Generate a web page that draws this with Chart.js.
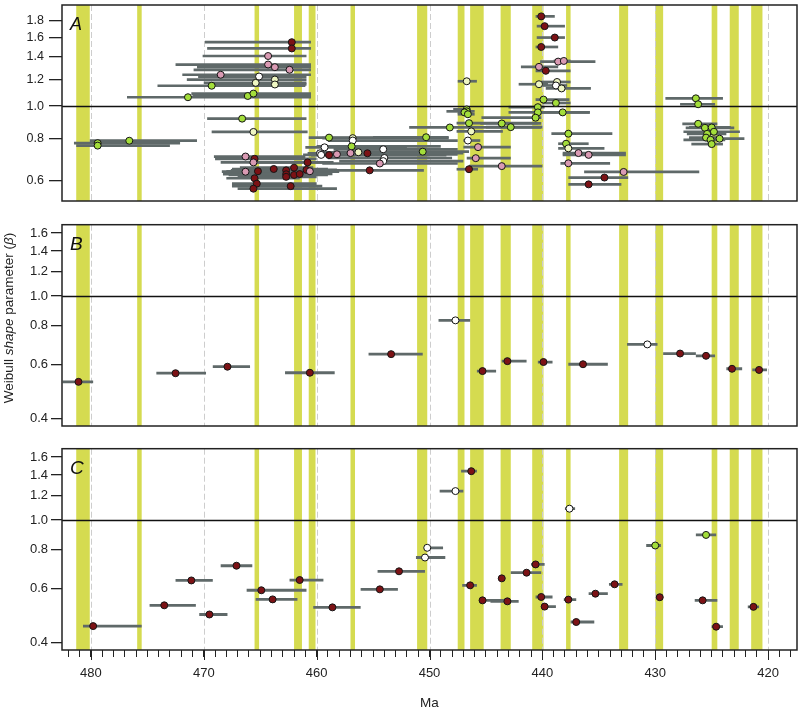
<!DOCTYPE html>
<html>
<head>
<meta charset="utf-8">
<title>Weibull shape parameter through time</title>
<script src="https://cdn.jsdelivr.net/npm/chart.js"></script>
<style>
  body { margin: 0; background: #fff; }
  #wrap { position: relative; width: 802px; height: 714px; }
  canvas { position: absolute; left: 0; }
  #chartA { top: 0; }
  #chartB { top: 215px; }
  #chartC { top: 440px; }
</style>
</head>
<body>
<div id="wrap">
  <canvas id="chartA" width="802" height="206"></canvas>
  <canvas id="chartB" width="802" height="216"></canvas>
  <canvas id="chartC" width="802" height="274"></canvas>
</div>
<script>
// stage bands (older edge, younger edge), Ma
const bandOld   = [481.3, 475.9, 465.5, 462.0, 460.7, 457.0, 451.1, 447.5, 446.4, 443.7, 440.9, 437.9, 433.2, 430.0, 425.0, 423.4, 421.5];
const bandYoung = [480.1, 475.5, 465.1, 461.3, 460.1, 456.6, 450.2, 446.9, 445.2, 442.8, 439.9, 437.5, 432.4, 429.3, 424.5, 422.6, 420.5];

const xTickLabels = [480, 470, 460, 450, 440, 430, 420];
const yTicksA = [0.6, 0.8, 1.0, 1.2, 1.4, 1.6, 1.8];
const yTicksBC = [0.4, 0.6, 0.8, 1.0, 1.2, 1.4, 1.6];

// panel A
const aMa = [462.2,462.2,464.3,464.3,463.7,462.4,468.5,465.1,465.4,463.7,463.7,469.3,471.4,466.1,465.6,
  479.4,479.4,476.6,
  466.6,465.6,
  466.3,465.5,465.6,460.8,466.3,465.2,463.8,462.7,462.7,462.7,462.0,462.0,461.5,460.9,460.6,465.5,465.3,465.6,462.3,
  458.9,456.8,456.8,456.9,459.3,459.7,459.6,458.9,458.2,457.0,456.3,455.5,454.1,454.0,454.1,454.4,455.3,450.3,450.6,448.2,
  446.7,446.7,446.9,446.6,446.5,446.3,446.6,445.7,445.9,443.6,446.5,443.6,442.8,440.4,440.4,440.6,438.2,439.9,438.8,437.7,437.9,437.7,436.8,435.9,437.7,432.8,434.5,435.9,
  440.1,439.8,438.9,440.1,438.6,438.1,440.3,439.7,446.7,440.3,438.7,438.8,438.3,
  426.4,426.2,426.2,425.6,425.0,424.8,425.4,425.5,424.3,425.1,425.0];
const aBeta = [1.55,1.485,1.41,1.33,1.306,1.283,1.24,1.225,1.173,1.20,1.16,1.15,1.063,1.072,1.09,
  0.776,0.763,0.789,
  0.918,0.838,
  0.708,0.697,0.68,0.68,0.638,0.640,0.650,0.644,0.627,0.616,0.656,0.624,0.628,0.646,0.64,0.61,0.588,0.568,0.578,
  0.806,0.803,0.79,0.759,0.754,0.724,0.716,0.715,0.719,0.725,0.729,0.724,0.744,0.701,0.686,0.675,0.644,0.808,0.732,0.864,
  0.978,0.965,0.958,0.946,0.89,0.841,0.79,0.755,0.70,0.663,0.649,0.888,0.866,0.993,0.958,0.924,0.958,1.046,1.022,0.828,0.773,0.749,0.725,0.716,0.676,0.637,0.613,0.585,
  1.85,1.73,1.60,1.50,1.357,1.363,1.309,1.274,1.186,1.162,1.18,1.152,1.129,
  1.055,1.013,0.886,0.862,0.864,0.839,0.827,0.806,0.80,0.794,0.771];
const aLo = [469.9,469.7,470.1,472.5,470.6,470.9,471.9,470.5,470.0,471.5,469.5,474.1,476.8,471.0,471.1,
  481.5,481.3,480.1,
  469.7,469.3,
  469.1,469.0,468.5,466.0,468.4,468.0,467.5,467.6,468.3,467.0,466.8,467.8,466.5,466.0,465.5,468.0,467.5,467.0,467.5,
  460.7,459.5,459.0,460.0,461.0,460.8,461.2,460.5,460.0,459.5,460.0,459.0,458.5,459.0,458.0,459.5,460.5,455.0,457.0,451.8,
  447.9,448.5,447.5,447.5,447.6,447.6,447.0,447.0,446.7,446.5,447.6,445.5,445.0,443.0,443.0,445.4,440.5,440.6,440.0,439.2,438.6,438.6,438.2,438.2,438.4,436.3,437.7,437.7,
  440.6,440.5,440.5,440.6,440.2,439.0,441.9,440.6,447.5,442.1,440.1,440.0,439.7,
  429.1,427.8,427.6,427.3,427.0,427.5,427.2,427.0,427.0,427.5,426.8];
const aHi = [460.5,460.5,460.9,460.5,460.5,460.5,460.5,460.9,460.9,460.9,460.9,461.0,460.5,460.5,460.5,
  472.1,473.0,470.6,
  460.9,460.8,
  461.0,460.0,459.0,458.5,458.0,459.5,459.0,458.9,459.5,460.0,460.3,459.0,458.6,458.2,459.0,461.5,460.0,458.2,459.5,
  450.5,448.3,447.5,449.0,452.0,449.5,450.0,448.5,447.5,448.0,449.0,447.0,447.5,448.0,447.0,447.5,450.5,448.3,446.5,440.1,
  446.4,446.0,446.2,446.0,440.4,443.5,445.5,442.8,442.8,440.0,445.7,440.1,440.0,439.8,435.8,440.1,435.8,437.6,437.5,433.8,435.9,434.5,432.6,432.6,434.0,426.1,432.4,433.0,
  438.9,438.0,438.0,438.6,435.3,437.5,438.6,437.5,445.8,439.5,437.5,437.8,435.7,
  424.0,424.7,424.5,423.0,423.3,422.5,423.7,424.0,422.1,423.8,424.0];
const aCls = ('RRPPPPPWYYYGGGG' + 'GGG' + 'GY' + 'PRPRPRRRRRRRRRPRRRR' + 'GYWGWWWRPPYRWWWPRGGG' +
  'GGGGGYWPPPRGGGGGGGGGGYPPPPRR' + 'RRRRPPPRYYYWY' + 'GGGGGGGGGGG').split('');

// panel B
const bMa   = [481.1, 472.5, 467.9, 460.6, 453.4, 447.7, 445.3, 443.1, 439.9, 436.4, 430.7, 427.8, 425.5, 423.2, 420.8];
const bBeta = [0.526, 0.561, 0.589, 0.563, 0.647, 0.833, 0.570, 0.614, 0.610, 0.600, 0.696, 0.650, 0.639, 0.580, 0.575];
const bLo   = [482.5, 474.2, 469.2, 462.8, 455.4, 449.2, 445.8, 443.6, 440.4, 437.7, 432.5, 429.3, 426.4, 423.7, 421.4];
const bHi   = [479.8, 469.8, 465.9, 458.4, 450.6, 446.4, 444.1, 441.4, 439.1, 434.2, 429.8, 426.4, 424.7, 422.3, 420.1];
const bCls  = 'RRRRRWRRRRWRRRR'.split('');

// panel C
const cMa   = [479.8,473.5,471.1,469.5,467.1,464.9,463.9,461.5,458.6,454.4,452.7,450.2,450.4,447.7,446.3,446.4,445.3,443.1,443.6,441.4,440.6,440.1,439.8,437.6,437.7,437.0,435.3,433.6,430.0,429.6,425.5,425.8,424.6,421.3];
const cBeta = [0.452,0.528,0.636,0.493,0.710,0.591,0.552,0.638,0.520,0.595,0.681,0.812,0.755,1.241,1.44,0.613,0.548,0.544,0.646,0.674,0.717,0.562,0.523,1.088,0.551,0.466,0.576,0.618,0.826,0.561,0.894,0.548,0.45,0.522];
const cLo   = [480.7,474.8,472.5,470.4,468.5,466.2,465.4,462.4,460.3,456.1,454.6,450.5,451.2,449.1,447.2,447.1,445.5,444.6,443.9,442.8,441.0,440.6,440.1,438.0,438.1,437.5,435.9,434.1,430.8,429.8,426.4,426.5,425.0,421.8];
const cHi   = [475.5,470.7,469.2,467.9,465.7,460.9,461.7,459.4,456.1,452.8,450.4,448.8,448.6,447.0,445.8,445.8,443.4,442.1,443.3,440.1,439.8,439.1,438.8,437.1,437.0,435.4,434.2,432.9,429.5,429.4,424.6,424.5,424.0,420.8];
const cCls  = ('RRRRRRRRRRR' + 'WWW' + 'RRRRRRRRR' + 'W' + 'RRRR' + 'G' + 'R' + 'G' + 'RRR').split('');

const fillFor = { R: '#7c1215', P: '#d99ab3', W: '#ffffff', Y: '#eef6c2', G: '#a3de3a' };
const bandColour = '#d5db50';
const barColour = '#5f6969';
const FONT = "'Liberation Sans', Arial, Helvetica, sans-serif";
Chart.defaults.font.family = FONT;

const decor = {
  id: 'decor',
  beforeDatasetsDraw(chart, args, opts) {
    const { ctx, chartArea: a, scales: { x, y } } = chart;
    ctx.save();
    ctx.beginPath();
    ctx.rect(a.left, a.top, a.width, a.height);
    ctx.clip();
    ctx.fillStyle = bandColour;
    bandOld.forEach((o, i) => {
      const x0 = x.getPixelForValue(o), x1 = x.getPixelForValue(bandYoung[i]);
      ctx.fillRect(x0, a.top, x1 - x0, a.height);
    });
    ctx.strokeStyle = '#cdcdcd';
    ctx.lineWidth = 1;
    ctx.setLineDash([6, 3]);
    xTickLabels.forEach(v => {
      const px = Math.round(x.getPixelForValue(v)) + 0.5;
      ctx.beginPath();
      ctx.moveTo(px, a.top);
      ctx.lineTo(px, a.bottom);
      ctx.stroke();
    });
    ctx.setLineDash([]);
    const ds = chart.data.datasets[0];
    ctx.strokeStyle = barColour;
    ctx.lineWidth = opts.barWidth;
    ds.lo.forEach((lo, i) => {
      const py = y.getPixelForValue(ds.data[i].y);
      ctx.beginPath();
      ctx.moveTo(x.getPixelForValue(lo), py);
      ctx.lineTo(x.getPixelForValue(ds.hi[i]), py);
      ctx.stroke();
    });
    const p1 = Math.round(y.getPixelForValue(1)) + 0.5;
    ctx.strokeStyle = '#111';
    ctx.lineWidth = 1.3;
    ctx.beginPath();
    ctx.moveTo(a.left, p1);
    ctx.lineTo(a.right, p1);
    ctx.stroke();
    ctx.restore();
  },
  afterDraw(chart, args, opts) {
    const { ctx, chartArea: a, scales: { x } } = chart;
    ctx.save();
    ctx.strokeStyle = '#222';
    ctx.lineWidth = 1.5;
    ctx.strokeRect(a.left, a.top, a.width, a.height);
    ctx.fillStyle = '#111';
    ctx.font = 'italic ' + opts.letterSize + 'px ' + FONT;
    ctx.textBaseline = 'alphabetic';
    ctx.fillText(opts.letter, a.left + 8, a.top + 25);
    if (opts.majorTicks) {
      ctx.lineWidth = 1;
      xTickLabels.forEach(v => {
        const px = Math.round(x.getPixelForValue(v)) + 0.5;
        ctx.beginPath();
        ctx.moveTo(px, a.bottom);
        ctx.lineTo(px, a.bottom + 10);
        ctx.stroke();
      });
    }
    if (opts.yTitle) {
      const parts = [['Weibull ', ''], ['shape', 'italic '], [' parameter (', ''], ['\u03b2', 'italic '], [')', '']];
      ctx.translate(9, 103);
      ctx.rotate(-Math.PI / 2);
      let total = 0;
      parts.forEach(p => { ctx.font = p[1] + '13.5px ' + FONT; total += ctx.measureText(p[0]).width; });
      let cx = -total / 2;
      ctx.textBaseline = 'middle';
      ctx.fillStyle = '#222';
      parts.forEach(p => {
        ctx.font = p[1] + '13.5px ' + FONT;
        ctx.fillText(p[0], cx, 0);
        cx += ctx.measureText(p[0]).width;
      });
    }
    ctx.restore();
  }
};

const minorTicks = [];
for (let v = 418; v <= 482; v++) minorTicks.push(v);

function makePanel(id, ma, beta, lo, hi, cls, cfg) {
  const xAxis = {
    type: 'linear', min: 417.44, max: 482.56, reverse: true, bounds: 'data',
    display: cfg.showX,
    afterBuildTicks: s => { s.ticks = minorTicks.map(v => ({ value: v })); },
    afterFit: s => { s.height = cfg.showX ? 64 : 0; s.paddingLeft = 0; s.paddingRight = 0; },
    ticks: {
      autoSkip: false, maxRotation: 0, minRotation: 0, padding: 9,
      color: '#222', font: { size: 13 },
      callback: v => (v % 10 === 0 ? String(v) : '')
    },
    grid: { drawOnChartArea: false, tickLength: 7, color: '#222', lineWidth: 1 },
    border: { display: false },
    title: { display: true, text: 'Ma', color: '#222', font: { size: 13.5 }, padding: { top: 0, bottom: 3 } }
  };
  return new Chart(document.getElementById(id), {
    type: 'scatter',
    data: {
      datasets: [{
        data: ma.map((m, i) => ({ x: m, y: beta[i] })),
        lo: lo,
        hi: hi,
        pointBackgroundColor: cls.map(c => fillFor[c]),
        pointBorderColor: '#151515',
        pointBorderWidth: 1,
        pointRadius: cfg.radius,
        showLine: false
      }]
    },
    options: {
      responsive: false,
      animation: false,
      events: [],
      layout: { padding: { top: cfg.padTop, bottom: cfg.padBottom, left: 0, right: 3 } },
      plugins: {
        legend: { display: false },
        tooltip: { enabled: false },
        decor: cfg.decor
      },
      scales: {
        x: xAxis,
        y: {
          type: 'logarithmic', min: cfg.yMin, max: cfg.yMax, bounds: 'data',
          afterBuildTicks: s => { s.ticks = cfg.yTicks.map(v => ({ value: v })); },
          afterFit: s => { s.width = 62; s.paddingTop = 0; s.paddingBottom = 0; },
          ticks: { autoSkip: false, padding: cfg.tickPad, color: '#222', font: { size: cfg.tickFont }, callback: v => Number(v).toFixed(1) },
          grid: { drawOnChartArea: false, tickLength: cfg.tickLen, color: '#222', lineWidth: 1.3 },
          border: { display: false }
        }
      }
    },
    plugins: [decor]
  });
}

makePanel('chartA', aMa, aBeta, aLo, aHi, aCls, {
  showX: false, padTop: 1, padBottom: 4.3, yMin: 0.522, yMax: 2.0, yTicks: yTicksA,
  tickFont: 12.5, tickPad: 5, tickLen: 13, radius: 3.5,
  decor: { letter: 'A', letterSize: 18, barWidth: 2.7 }
});
makePanel('chartB', bMa, bBeta, bLo, bHi, bCls, {
  showX: false, padTop: 9.7, padBottom: 5, yMin: 0.378, yMax: 1.704, yTicks: yTicksBC,
  tickFont: 13, tickPad: 3, tickLen: 11, radius: 3.5,
  decor: { letter: 'B', letterSize: 19, barWidth: 2.8, yTitle: true }
});
makePanel('chartC', cMa, cBeta, cLo, cHi, cCls, {
  showX: true, padTop: 8.7, padBottom: 0, yMin: 0.378, yMax: 1.704, yTicks: yTicksBC,
  tickFont: 13, tickPad: 3, tickLen: 11, radius: 3.5,
  decor: { letter: 'C', letterSize: 19, barWidth: 2.8, majorTicks: true }
});
</script>
</body>
</html>
